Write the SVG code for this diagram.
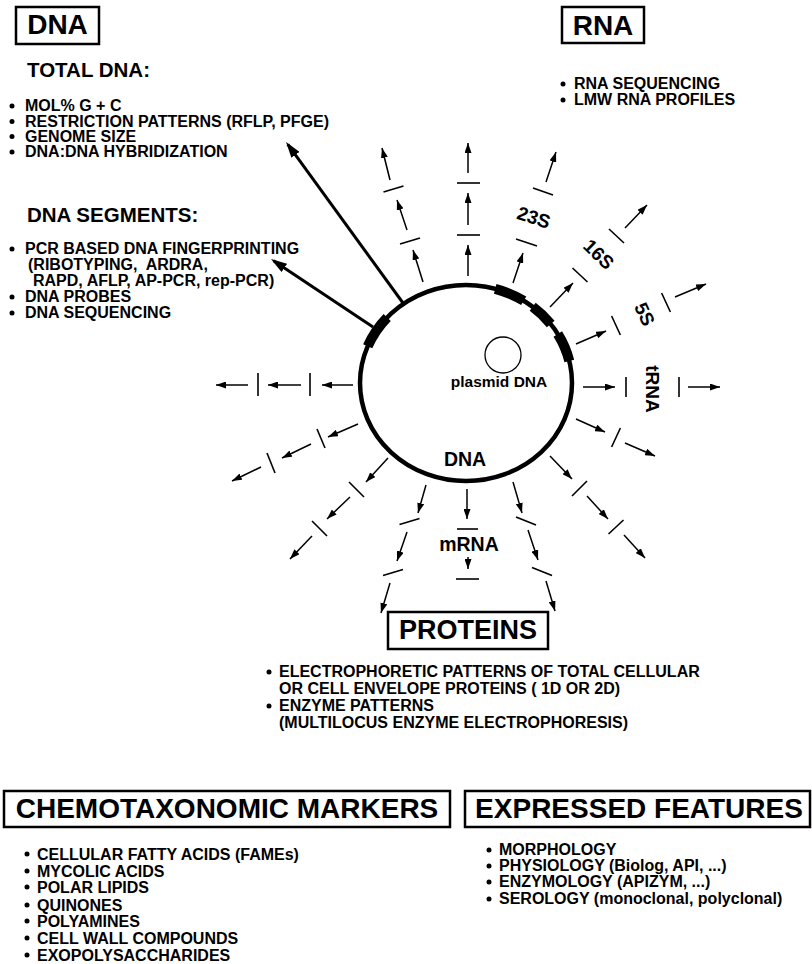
<svg xmlns="http://www.w3.org/2000/svg" width="812" height="964" viewBox="0 0 812 964">
<style>
.t{font-family:"Liberation Sans",Arial,Helvetica,sans-serif;font-weight:bold;fill:#000}
.li{font-size:16px}
.hd{font-size:20.5px}
.bx{font-size:28px}
.rl{font-size:19px}
.box{fill:none;stroke:#000;stroke-width:2.5}
.ar{stroke:#000;stroke-width:1.5;fill:none;marker-end:url(#ah)}
.big{stroke:#000;stroke-width:3;fill:none;marker-end:url(#ahL)}
.tk{stroke:#000;stroke-width:1.6;fill:none}
.gene{stroke:#000;stroke-width:10;fill:none}
.b{fill:#000}
</style>
<defs>
<marker id="ah" markerWidth="10" markerHeight="7" refX="10" refY="3.5" orient="auto" markerUnits="userSpaceOnUse"><path d="M0,0 L10,3.5 L0,7 Z" fill="#000"/></marker>
<marker id="ahL" markerWidth="16" markerHeight="10" refX="13" refY="5" orient="auto" markerUnits="userSpaceOnUse"><path d="M0,0 L16,5 L0,10 Z" fill="#000"/></marker>
</defs>
<rect width="812" height="964" fill="#fff"/>

<g id="dna">
<rect x="16" y="7" width="83" height="37" class="box"/>
<text x="57.5" y="34" class="t bx" text-anchor="middle">DNA</text>
<text x="27" y="77" class="t hd">TOTAL DNA:</text>
<circle cx="12" cy="106" r="2.5" class="b"/>
<circle cx="12" cy="121.5" r="2.5" class="b"/>
<circle cx="12" cy="136.5" r="2.5" class="b"/>
<circle cx="12" cy="152" r="2.5" class="b"/>
<text x="25" y="111" class="t li">MOL% G + C</text>
<text x="25" y="126.5" class="t li">RESTRICTION PATTERNS (RFLP, PFGE)</text>
<text x="25" y="141.5" class="t li">GENOME SIZE</text>
<text x="25" y="157" class="t li">DNA:DNA HYBRIDIZATION</text>
<text x="27" y="222" class="t hd">DNA SEGMENTS:</text>
<circle cx="12" cy="249" r="2.5" class="b"/>
<circle cx="12" cy="297" r="2.5" class="b"/>
<circle cx="12" cy="313" r="2.5" class="b"/>
<text x="25" y="254" class="t li">PCR BASED DNA FINGERPRINTING</text>
<text x="28" y="270" class="t li" style="white-space:pre">(RIBOTYPING,  ARDRA,</text>
<text x="33" y="286" class="t li">RAPD, AFLP, AP-PCR, rep-PCR)</text>
<text x="25" y="302" class="t li">DNA PROBES</text>
<text x="25" y="318" class="t li">DNA SEQUENCING</text>
</g>

<g id="rna">
<rect x="562" y="7" width="82" height="36" class="box"/>
<text x="603" y="35" class="t bx" text-anchor="middle">RNA</text>
<circle cx="563" cy="84" r="2.5" class="b"/>
<circle cx="563" cy="100" r="2.5" class="b"/>
<text x="574" y="89" class="t li">RNA SEQUENCING</text>
<text x="574" y="105" class="t li">LMW RNA PROFILES</text>
</g>

<g id="chromosome">
<ellipse cx="466" cy="383" rx="106" ry="98" fill="none" stroke="#000" stroke-width="4.5"/>
<path class="gene" d="M495.2,288.8 A106,98 0 0 1 523.7,300.8"/>
<path class="gene" d="M532.7,306.8 A106,98 0 0 1 550.7,324"/>
<path class="gene" d="M557.8,334 A106,98 0 0 1 569.3,361"/>
<path class="gene" d="M367.7,346.3 A106,98 0 0 1 387.2,317.4"/>
<text x="465" y="466" class="t" font-size="19.5" text-anchor="middle">DNA</text>
</g>

<g id="plasmid">
<circle cx="503" cy="355" r="18" fill="none" stroke="#000" stroke-width="1.3"/>
<text x="499" y="387" class="t" font-size="15.5" text-anchor="middle">plasmid DNA</text>
</g>

<g id="rna-labels">
<text class="t rl" text-anchor="middle" transform="translate(534,217) rotate(18)" y="7">23S</text>
<text class="t rl" text-anchor="middle" transform="translate(599,254) rotate(44)" y="7">16S</text>
<text class="t rl" text-anchor="middle" transform="translate(645,314) rotate(65)" y="7">5S</text>
<text class="t rl" text-anchor="middle" transform="translate(653,389) rotate(90)" y="7">tRNA</text>
<text class="t" font-size="19.5" x="469" y="551" text-anchor="middle">mRNA</text>
</g>

<g id="proteins">
<rect x="388" y="612" width="160" height="37" class="box"/>
<text x="468" y="639" class="t" font-size="27" text-anchor="middle">PROTEINS</text>
<circle cx="269" cy="672" r="2.5" class="b"/>
<circle cx="269" cy="706" r="2.5" class="b"/>
<text x="279" y="677" class="t li">ELECTROPHORETIC PATTERNS OF TOTAL CELLULAR</text>
<text x="279" y="694" class="t li">OR CELL ENVELOPE PROTEINS ( 1D OR 2D)</text>
<text x="279" y="711" class="t li">ENZYME PATTERNS</text>
<text x="279" y="728" class="t li">(MULTILOCUS ENZYME ELECTROPHORESIS)</text>
</g>

<g id="chemotaxonomic">
<rect x="4" y="791" width="446" height="36" class="box"/>
<text x="227" y="818" class="t bx" text-anchor="middle">CHEMOTAXONOMIC MARKERS</text>
<circle cx="27" cy="854" r="2.5" class="b"/>
<circle cx="27" cy="871" r="2.5" class="b"/>
<circle cx="27" cy="887" r="2.5" class="b"/>
<circle cx="27" cy="905" r="2.5" class="b"/>
<circle cx="27" cy="921" r="2.5" class="b"/>
<circle cx="27" cy="938" r="2.5" class="b"/>
<circle cx="27" cy="955" r="2.5" class="b"/>
<text x="37" y="860" class="t li">CELLULAR FATTY ACIDS (FAMEs)</text>
<text x="37" y="877" class="t li">MYCOLIC ACIDS</text>
<text x="37" y="893" class="t li">POLAR LIPIDS</text>
<text x="37" y="911" class="t li">QUINONES</text>
<text x="37" y="927" class="t li">POLYAMINES</text>
<text x="37" y="944" class="t li">CELL WALL COMPOUNDS</text>
<text x="37" y="961" class="t li">EXOPOLYSACCHARIDES</text>
</g>

<g id="expressed">
<rect x="465" y="791" width="345" height="36" class="box"/>
<text x="639" y="818" class="t bx" text-anchor="middle">EXPRESSED FEATURES</text>
<circle cx="489" cy="850" r="2.5" class="b"/>
<circle cx="489" cy="866" r="2.5" class="b"/>
<circle cx="489" cy="882" r="2.5" class="b"/>
<circle cx="489" cy="899" r="2.5" class="b"/>
<text x="499" y="855" class="t li">MORPHOLOGY</text>
<text x="499" y="871" class="t li">PHYSIOLOGY (Biolog, API, ...)</text>
<text x="499" y="887" class="t li">ENZYMOLOGY (APIZYM, ...)</text>
<text x="499" y="904" class="t li">SEROLOGY (monoclonal, polyclonal)</text>
</g>

<g id="connectors">
<path class="big" d="M403,303 L287.8,144.4"/>
<path class="big" d="M373,327 L273.5,260.7"/>
<path class="ar" d="M423,282 L413,250"/>
<path class="tk" d="M400,244 L420,238"/>
<path class="ar" d="M407,230 L397,200"/>
<path class="tk" d="M383.5,192 L403.5,186"/>
<path class="ar" d="M390,180 L382,148"/>
<path class="ar" d="M468,276 L468,245"/>
<path class="tk" d="M457,235 L480,235"/>
<path class="ar" d="M468,225 L468,193"/>
<path class="tk" d="M457,183 L480,183"/>
<path class="ar" d="M468,173 L468,143"/>
<path class="ar" d="M513,283 L523,253"/>
<path class="tk" d="M516,239 L537,246"/>
<path class="tk" d="M533,188 L553,195"/>
<path class="ar" d="M546,182 L556,152"/>
<path class="ar" d="M550,307 L573,283"/>
<path class="tk" d="M572.5,268 L587.5,282"/>
<path class="tk" d="M609,229 L624,243"/>
<path class="ar" d="M625,228 L647,205"/>
<path class="ar" d="M576,344 L606,331"/>
<path class="tk" d="M611.6,316 L620.4,335"/>
<path class="tk" d="M661.6,293 L670.4,312"/>
<path class="ar" d="M675,297 L706,284"/>
<path class="ar" d="M583,387 L615,387"/>
<path class="tk" d="M626,377 L626,397"/>
<path class="tk" d="M679,377 L679,397"/>
<path class="ar" d="M688,387 L720,387"/>
<path class="ar" d="M576,419 L605,432"/>
<path class="tk" d="M620.4,428 L611.6,447"/>
<path class="ar" d="M625,443 L655,456"/>
<path class="ar" d="M550,456 L572,479"/>
<path class="tk" d="M572,496 L587,481"/>
<path class="ar" d="M587,496 L608,519"/>
<path class="tk" d="M608.5,534 L623.5,520"/>
<path class="ar" d="M624,535 L645,558"/>
<path class="ar" d="M513,482 L522,513"/>
<path class="tk" d="M516,517 L536,525"/>
<path class="ar" d="M528,530 L538,560"/>
<path class="tk" d="M532,567.5 L552,575.5"/>
<path class="ar" d="M546,581 L555,611"/>
<path class="ar" d="M467,489 L467,519"/>
<path class="tk" d="M457,529 L478,529"/>
<path class="ar" d="M468,557 L468,569"/>
<path class="tk" d="M456,579 L479,579"/>
<path class="ar" d="M426,485 L418,513"/>
<path class="tk" d="M399.5,524.5 L419.5,518.5"/>
<path class="ar" d="M407,532 L397,561"/>
<path class="tk" d="M383,575.5 L403,569.5"/>
<path class="ar" d="M390,583 L381,613"/>
<path class="ar" d="M388,458 L366,482"/>
<path class="tk" d="M349,482 L364,497"/>
<path class="ar" d="M350,497 L327,519"/>
<path class="tk" d="M312,521 L327,536"/>
<path class="ar" d="M312,536 L290,559"/>
<path class="ar" d="M358,424 L328,437"/>
<path class="tk" d="M317,429 L325,448"/>
<path class="ar" d="M311,444 L282,458"/>
<path class="tk" d="M267,453 L275,473"/>
<path class="ar" d="M261,467 L232,481"/>
<path class="ar" d="M353,385 L322,385"/>
<path class="tk" d="M310,373 L310,396"/>
<path class="ar" d="M301,385 L268,385"/>
<path class="tk" d="M258,373 L258,396"/>
<path class="ar" d="M248,385 L216,385"/>
</g>
</svg>
